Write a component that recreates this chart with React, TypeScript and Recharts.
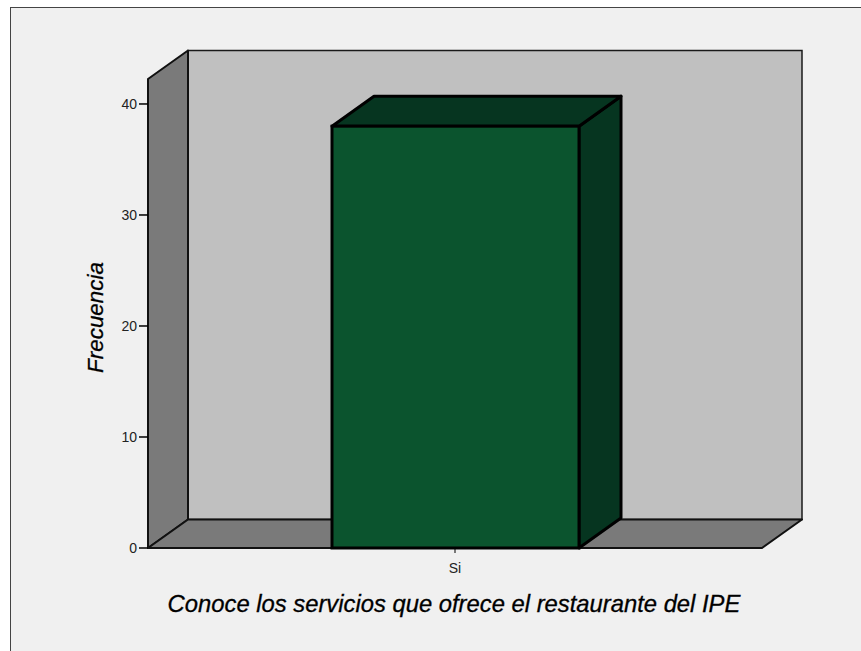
import React from 'react';
import { BarChart, Bar, XAxis, YAxis, ReferenceArea } from 'recharts';

const categories = ['Si'];
const frecuencias = [38];
const yTicks = [0, 10, 20, 30, 40];
const yMax = 42.25;
const xTitle = 'Conoce los servicios que ofrece el restaurante del IPE';
const yTitle = 'Frecuencia';

const data = categories.map((c, i) => ({ name: c, value: frecuencias[i] }));

const FONT = '"Liberation Sans", Arial, sans-serif';

const Walls = (props: any) => {
  const { x, y, width, height } = props;
  const dx = 40;
  const dy = 28.5;
  const b = y + height;
  return (
    <g>
      <rect x={x + dx} y={y - dy} width={width} height={height} fill="#c0c0c0" stroke="#1a1a1a" strokeWidth={1.5} />
      <polygon
        points={`${x},${y} ${x + dx},${y - dy} ${x + dx},${b - dy} ${x},${b}`}
        fill="#7a7a7a"
        stroke="#111"
        strokeWidth={2}
        strokeLinejoin="round"
      />
      <polygon
        points={`${x},${b} ${x + dx},${b - dy} ${x + width + dx},${b - dy} ${x + width},${b}`}
        fill="#7a7a7a"
        stroke="#111"
        strokeWidth={2}
        strokeLinejoin="round"
      />
    </g>
  );
};

const Bar3D = (props: any) => {
  const { x, y, width, height } = props;
  const dx = 42;
  const dy = 30;
  const r = x + width;
  const b = y + height;
  return (
    <g>
      <polygon
        points={`${r},${y} ${r + dx},${y - dy} ${r + dx},${b - dy} ${r},${b}`}
        fill="#063520"
        stroke="#000"
        strokeWidth={3}
        strokeLinejoin="round"
      />
      <polygon
        points={`${x},${y} ${x + dx},${y - dy} ${r + dx},${y - dy} ${r},${y}`}
        fill="#063520"
        stroke="#000"
        strokeWidth={3}
        strokeLinejoin="round"
      />
      <rect x={x} y={y} width={width} height={height} fill="#0b542e" stroke="#000" strokeWidth={3} />
    </g>
  );
};

const XTitle = (props: any) => {
  const vb = props.viewBox || { x: 148, y: 548, width: 614 };
  return (
    <text
      x={vb.x + vb.width / 2 - 1}
      y={vb.y + 64}
      textAnchor="middle"
      fontFamily={FONT}
      fontStyle="italic"
      fontSize={23.8}
      stroke="#000"
      strokeWidth={0.3}
      fill="#000"
    >
      {xTitle}
    </text>
  );
};

const YTitle = (props: any) => {
  const vb = props.viewBox || { x: 0, y: 79, width: 148, height: 469 };
  const cx = 103;
  const cy = vb.y + vb.height / 2 + 4;
  return (
    <text
      x={cx}
      y={cy}
      transform={`rotate(-90, ${cx}, ${cy})`}
      textAnchor="middle"
      fontFamily={FONT}
      fontStyle="italic"
      fontSize={22.4}
      stroke="#000"
      strokeWidth={0.3}
      fill="#000"
    >
      {yTitle}
    </text>
  );
};

export default function App() {
  return (
    <div style={{ position: 'absolute', left: 0, top: 0, width: 861, height: 651, overflow: 'hidden', background: '#fff' }}>
      <div
        style={{
          position: 'absolute',
          left: 10,
          top: 7,
          width: 900,
          height: 700,
          border: '1px solid #444',
          background: '#f0f0f0',
        }}
      />
      <BarChart
        width={861}
        height={651}
        data={data}
        margin={{ top: 79, right: 99, bottom: 63, left: 0 }}
        barCategoryGap={0}
        style={{ position: 'absolute', left: 0, top: 0 }}
      >
        <ReferenceArea y1={0} y2={yMax} ifOverflow="visible" shape={<Walls />} isFront={false} />
        <XAxis
          dataKey="name"
          height={40}
          axisLine={false}
          tickLine={{ stroke: '#000' }}
          tickSize={5}
          tickMargin={10}
          tick={{ fill: '#222', fontSize: 14, fontFamily: FONT }}
          label={<XTitle />}
        />
        <YAxis
          width={148}
          domain={[0, yMax]}
          ticks={yTicks}
          axisLine={false}
          tickLine={{ stroke: '#000', strokeWidth: 1.5 }}
          tickSize={9}
          tickMargin={2}
          tick={{ fill: '#222', fontSize: 14, fontFamily: FONT }}
          label={<YTitle />}
        />
        <Bar dataKey="value" barSize={247} shape={<Bar3D />} isAnimationActive={false} />
      </BarChart>
    </div>
  );
}
